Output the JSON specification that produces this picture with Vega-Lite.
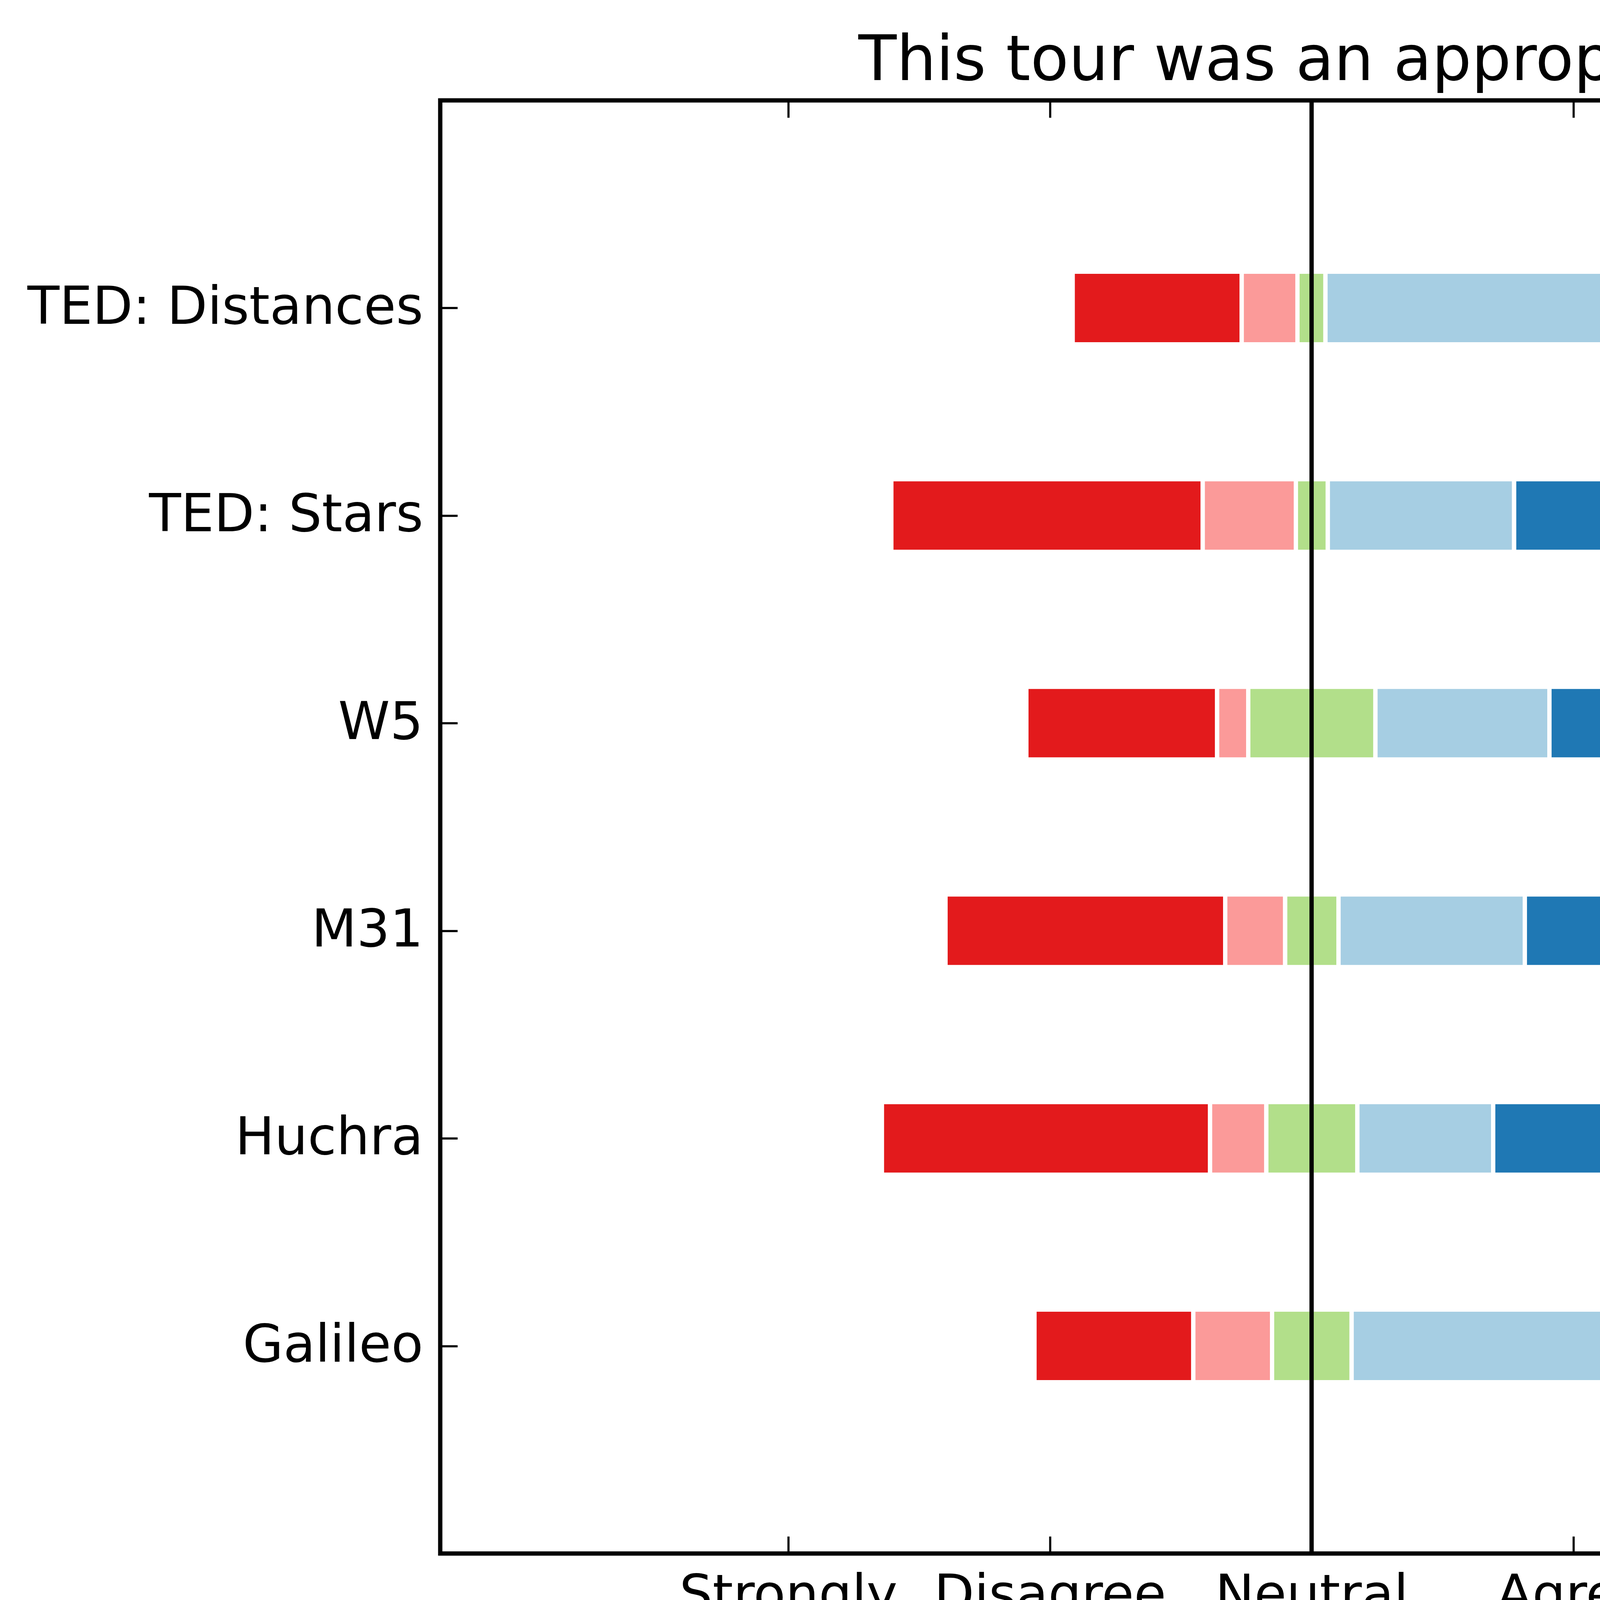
{
  "$schema": "https://vega.github.io/schema/vega-lite/v6.json",
  "autosize": {"type": "none"},
  "padding": {"left": 1127, "top": 257, "right": 80, "bottom": 405},
  "width": 5580,
  "height": 3720,
  "background": "white",
  "config": {
    "view": {"stroke": "black", "strokeWidth": 11},
    "font": "DejaVu Sans",
    "axis": {
      "domain": false,
      "grid": false,
      "ticks": true,
      "tickSize": -44,
      "tickWidth": 5.5,
      "tickColor": "black",
      "labelFont": "DejaVu Sans",
      "labelFontSize": 134,
      "labelColor": "black",
      "labelLimit": 0,
      "labelOverlap": false
    }
  },
  "title": {
    "text": "This tour was an appropriate length for me",
    "font": "DejaVu Sans",
    "fontSize": 160,
    "fontWeight": "normal",
    "color": "black",
    "baseline": "alphabetic",
    "anchor": "middle",
    "offset": -113
  },
  "datasets": {
    "bars": [
      {"tour": "TED: Distances", "response": "Strongly Disagree", "start": -0.913, "end": -0.267},
      {"tour": "TED: Distances", "response": "Disagree", "start": -0.267, "end": -0.054},
      {"tour": "TED: Distances", "response": "Neutral", "start": -0.054, "end": 0.053},
      {"tour": "TED: Distances", "response": "Agree", "start": 0.053, "end": 1.130},
      {"tour": "TED: Distances", "response": "Strongly Agree", "start": 1.130, "end": 2.419},
      {"tour": "TED: Stars", "response": "Strongly Disagree", "start": -1.606, "end": -0.416},
      {"tour": "TED: Stars", "response": "Disagree", "start": -0.416, "end": -0.060},
      {"tour": "TED: Stars", "response": "Neutral", "start": -0.060, "end": 0.062},
      {"tour": "TED: Stars", "response": "Agree", "start": 0.062, "end": 0.774},
      {"tour": "TED: Stars", "response": "Strongly Agree", "start": 0.774, "end": 1.726},
      {"tour": "W5", "response": "Strongly Disagree", "start": -1.090, "end": -0.361},
      {"tour": "W5", "response": "Disagree", "start": -0.361, "end": -0.242},
      {"tour": "W5", "response": "Neutral", "start": -0.242, "end": 0.244},
      {"tour": "W5", "response": "Agree", "start": 0.244, "end": 0.909},
      {"tour": "W5", "response": "Strongly Agree", "start": 0.909, "end": 2.242},
      {"tour": "M31", "response": "Strongly Disagree", "start": -1.399, "end": -0.330},
      {"tour": "M31", "response": "Disagree", "start": -0.330, "end": -0.101},
      {"tour": "M31", "response": "Neutral", "start": -0.101, "end": 0.103},
      {"tour": "M31", "response": "Agree", "start": 0.103, "end": 0.815},
      {"tour": "M31", "response": "Strongly Agree", "start": 0.815, "end": 1.933},
      {"tour": "Huchra", "response": "Strongly Disagree", "start": -1.642, "end": -0.388},
      {"tour": "Huchra", "response": "Disagree", "start": -0.388, "end": -0.173},
      {"tour": "Huchra", "response": "Neutral", "start": -0.173, "end": 0.175},
      {"tour": "Huchra", "response": "Agree", "start": 0.175, "end": 0.694},
      {"tour": "Huchra", "response": "Strongly Agree", "start": 0.694, "end": 1.687},
      {"tour": "Galileo", "response": "Strongly Disagree", "start": -1.059, "end": -0.452},
      {"tour": "Galileo", "response": "Disagree", "start": -0.452, "end": -0.151},
      {"tour": "Galileo", "response": "Neutral", "start": -0.151, "end": 0.153},
      {"tour": "Galileo", "response": "Agree", "start": 0.153, "end": 1.304},
      {"tour": "Galileo", "response": "Strongly Agree", "start": 1.304, "end": 2.273}
    ],
    "labels": [
      {"tour": "TED: Distances", "end": 2.419, "label": "number of\nresponses = 22"},
      {"tour": "TED: Stars", "end": 1.726, "label": "number of\nresponses = 19"},
      {"tour": "W5", "end": 2.242, "label": "number of\nresponses = 38"},
      {"tour": "M31", "end": 1.933, "label": "number of\nresponses = 88"},
      {"tour": "Huchra", "end": 1.687, "label": "number of\nresponses = 102"},
      {"tour": "Galileo", "end": 2.273, "label": "number of\nresponses = 42"}
    ]
  },
  "resolve": {"axis": {"x": "independent", "y": "independent"}},
  "layer": [
    {
      "data": {"name": "bars"},
      "mark": {"type": "bar", "stroke": "white", "strokeWidth": 11},
      "encoding": {
        "y": {
          "field": "tour",
          "type": "nominal",
          "sort": ["TED: Distances", "TED: Stars", "W5", "M31", "Huchra", "Galileo"],
          "scale": {"type": "point", "padding": 1},
          "axis": {"orient": "left", "title": null, "labelPadding": 88, "labelBaseline": "middle", "labelAlign": "right"}
        },
        "x": {
          "field": "start",
          "type": "quantitative",
          "scale": {"domain": [-3.33, 5], "nice": false, "zero": false},
          "axis": {
            "orient": "bottom",
            "title": null,
            "values": [-2, -1, 0, 1, 2],
            "labelPadding": 192,
            "labelBaseline": "alphabetic",
            "labelAlign": "center",
            "labelLineHeight": 148,
            "labelExpr": "datum.value == -2 ? ['Strongly', 'Disagree'] : datum.value == -1 ? 'Disagree' : datum.value == 0 ? 'Neutral' : datum.value == 1 ? 'Agree' : ['Strongly', 'Agree']"
          }
        },
        "x2": {"field": "end"},
        "size": {"value": 186},
        "color": {
          "field": "response",
          "type": "nominal",
          "scale": {
            "domain": ["Strongly Disagree", "Disagree", "Neutral", "Agree", "Strongly Agree"],
            "range": ["#e31a1c", "#fb9a99", "#b2df8a", "#a6cee3", "#1f78b4"]
          },
          "legend": null
        }
      }
    },
    {
      "data": {"name": "labels"},
      "mark": {
        "type": "text",
        "align": "left",
        "baseline": "alphabetic",
        "dx": 119,
        "dy": 35,
        "fontSize": 134,
        "font": "DejaVu Sans",
        "lineBreak": "\n",
        "lineHeight": 150,
        "color": "black"
      },
      "encoding": {
        "y": {
          "field": "tour",
          "type": "nominal",
          "sort": ["TED: Distances", "TED: Stars", "W5", "M31", "Huchra", "Galileo"],
          "axis": {"orient": "right", "title": null, "labels": false}
        },
        "x": {
          "field": "end",
          "type": "quantitative",
          "axis": {"orient": "top", "title": null, "values": [-2, -1, 0, 1, 2], "labels": false}
        },
        "text": {"field": "label"}
      }
    },
    {
      "data": {"values": [{}]},
      "mark": {"type": "rule", "color": "black", "strokeWidth": 11},
      "encoding": {
        "x": {"datum": 0, "type": "quantitative", "axis": null}
      }
    }
  ]
}
